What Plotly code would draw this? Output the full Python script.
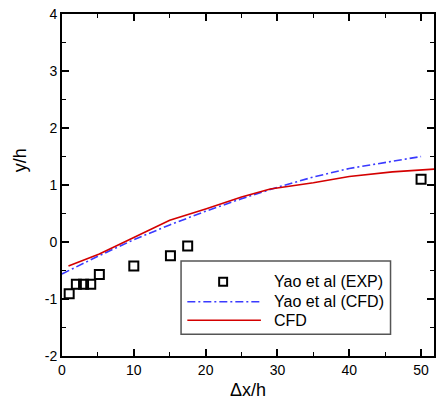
import plotly.graph_objects as go

# Experimental data (Yao et al EXP)
exp_x = [1.0, 2.0, 3.0, 4.0, 5.2, 10.0, 15.1, 17.5, 50.0]
exp_y = [-0.91, -0.74, -0.74, -0.74, -0.57, -0.42, -0.24, -0.07, 1.10]

# Yao et al CFD
yao_cfd_x = [0, 5, 10, 15, 20, 25, 30, 35, 40, 45, 50]
yao_cfd_y = [-0.56, -0.25, 0.04, 0.30, 0.54, 0.76, 0.96, 1.14, 1.29, 1.40, 1.50]

# Present CFD
cfd_x = [0.9, 5.2, 10, 15, 20, 25, 29, 35, 40, 46, 52]
cfd_y = [-0.42, -0.21, 0.08, 0.38, 0.58, 0.79, 0.93, 1.04, 1.15, 1.23, 1.28]

x_ticks = [0, 10, 20, 30, 40, 50]
y_ticks = [-2, -1, 0, 1, 2, 3, 4]
y_ticktext = ["-2", "-1", "0", "1", "2", "3", "4"]

legend_names = ["Yao et al (EXP)", "Yao et al (CFD)", "CFD"]

FONT = "Liberation Sans, Arial, sans-serif"
BLUE = "#3a3aff"
RED = "#d40000"
BLUE_DASH = "8px,3px,2px,3px"

W, H = 436, 405
ML, MR, MT, MB = 62, 0, 14, 49
PW, PH = W - ML - MR, H - MT - MB


def px(xp):
    return (xp - ML) / PW


def py(yp):
    return (H - MB - yp) / PH


fig = go.Figure()
fig.add_trace(go.Scatter(
    x=exp_x, y=exp_y, mode="markers", name=legend_names[0], showlegend=False,
    marker=dict(symbol="square-open", size=9, color="black", line=dict(width=2, color="black")),
))
fig.add_trace(go.Scatter(
    x=yao_cfd_x, y=yao_cfd_y, mode="lines", name=legend_names[1], showlegend=False,
    line=dict(color=BLUE, width=1.6, dash=BLUE_DASH),
))
fig.add_trace(go.Scatter(
    x=cfd_x, y=cfd_y, mode="lines", name=legend_names[2], showlegend=False,
    line=dict(color=RED, width=1.6),
))

axis_common = dict(
    showgrid=False, zeroline=False, showline=True, linecolor="black", linewidth=2,
    ticks="inside", ticklen=7, tickwidth=1.5, tickcolor="black",
    tickfont=dict(family=FONT, size=14, color="black"),
)

fig.update_xaxes(
    range=[0, 51.8], tickvals=x_ticks, mirror="allticks",
    minor=dict(dtick=5, ticks="inside", ticklen=4, tickwidth=1.2, tickcolor="black", tick0=0),
    **axis_common,
)
fig.update_yaxes(
    range=[-2, 4], tickvals=y_ticks, ticktext=y_ticktext, mirror="ticks",
    minor=dict(dtick=0.5, ticks="inside", ticklen=4, tickwidth=1.2, tickcolor="black", tick0=0),
    **axis_common,
)

# Manual legend (box, samples, labels)
shapes = [
    dict(type="rect", xref="paper", yref="paper",
         x0=px(181.7), x1=px(392.3), y0=py(334.3), y1=py(261),
         line=dict(color="#555555", width=1.5), fillcolor="white", layer="above"),
    dict(type="rect", xref="paper", yref="paper",
         x0=px(220), x1=px(228), y0=py(285.7), y1=py(277.7),
         line=dict(color="black", width=2), fillcolor="rgba(0,0,0,0)", layer="above"),
    dict(type="line", xref="paper", yref="paper",
         x0=px(188), x1=px(262), y0=py(301.7), y1=py(301.7),
         line=dict(color=BLUE, width=1.6, dash=BLUE_DASH), layer="above"),
    dict(type="line", xref="paper", yref="paper",
         x0=px(188), x1=px(262), y0=py(320.3), y1=py(320.3),
         line=dict(color=RED, width=1.6), layer="above"),
]

annotations = [
    dict(text="Δx/h", xref="paper", yref="paper", x=0.5, y=py(390),
         xanchor="center", yanchor="middle", showarrow=False,
         font=dict(family=FONT, size=18, color="black")),
    dict(text="y/h", xref="paper", yref="paper", x=px(20), y=py(160),
         xanchor="center", yanchor="middle", showarrow=False, textangle=-90,
         font=dict(family=FONT, size=18, color="black")),
]
for name, yc in zip(legend_names, [281.7, 301.7, 320.3]):
    annotations.append(dict(
        text=name, xref="paper", yref="paper", x=px(273), y=py(yc),
        xanchor="left", yanchor="middle", showarrow=False,
        font=dict(family=FONT, size=16, color="black"),
    ))

fig.update_layout(
    width=W, height=H,
    margin=dict(l=ML, r=MR, t=MT, b=MB),
    plot_bgcolor="white", paper_bgcolor="white",
    font=dict(family=FONT, size=16, color="black"),
    showlegend=False,
    shapes=shapes,
    annotations=annotations,
)

fig.write_html("out.html")
